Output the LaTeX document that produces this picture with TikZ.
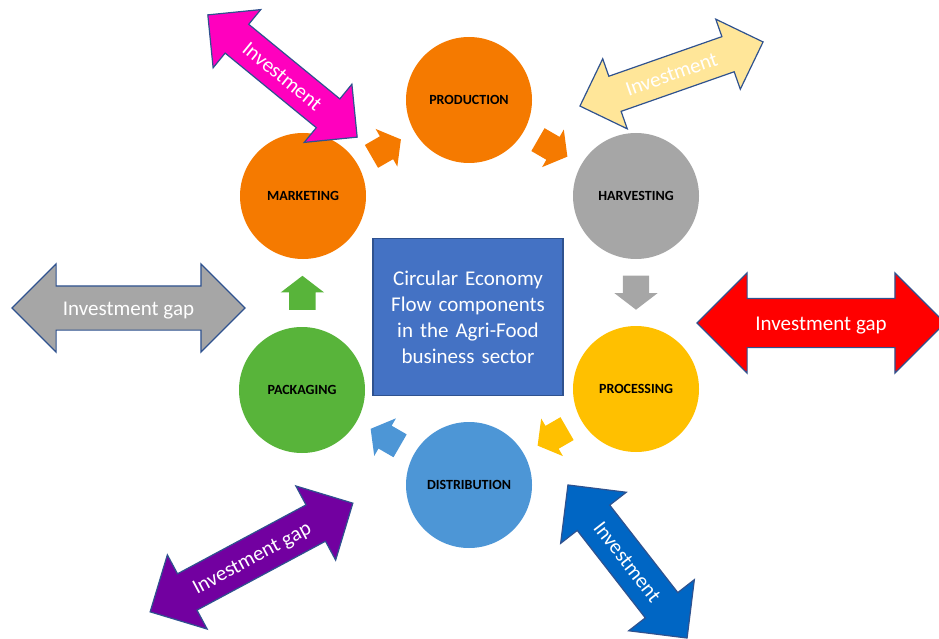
\documentclass[tikz,border=0pt]{standalone}
\usepackage{fontspec}
\setmainfont{Carlito}
\usepackage{tikz}
\usetikzlibrary{shapes.geometric, shapes.arrows, calc}
\definecolor{stageorange}{RGB}{245,122,0}
\definecolor{stagegray}{RGB}{166,166,166}
\definecolor{stageyellow}{RGB}{255,192,0}
\definecolor{stageblue}{RGB}{77,150,214}
\definecolor{stagegreen}{RGB}{88,180,58}
\definecolor{corefill}{RGB}{68,114,196}
\definecolor{edgeblue}{RGB}{47,82,143}
\definecolor{invpink}{RGB}{255,0,190}
\definecolor{invyellow}{RGB}{255,230,153}
\definecolor{gappurple}{RGB}{114,0,160}
\definecolor{invblue}{RGB}{0,102,196}
\tikzstyle{stage} = [circle, minimum size=126pt, inner sep=0pt, text centered, font=\bfseries\fontsize{14}{16}\selectfont]
\tikzstyle{centrebox} = [rectangle, minimum width=190pt, minimum height=157pt, text width=180pt, align=center, draw=edgeblue, line width=1.5pt, fill=corefill, text=white, font=\fontsize{21}{26}\selectfont]
\tikzstyle{flow} = [single arrow, anchor=tail, minimum height=34pt, inner xsep=0pt, inner ysep=13pt, single arrow head extend=8.5pt, single arrow tip angle=105]
\tikzstyle{bigarrow} = [double arrow, inner ysep=0pt, inner xsep=2pt, draw=edgeblue, line width=1.2pt, text=white, font=\fontsize{21}{26}\selectfont]

\begin{document}
\begin{tikzpicture}[x=1pt, y=-1pt]
  \useasboundingbox (0,0) rectangle (939,639);
  \node (core) [centrebox] at (468,317) {Circular Economy\\Flow components\\in the Agri-Food\\business sector};
  \node (production) [stage, fill=stageorange] at (469,100) {PRODUCTION};
  \node (harvesting) [stage, fill=stagegray] at (636,196) {HARVESTING};
  \node (processing) [stage, fill=stageyellow] at (636,389) {PROCESSING};
  \node (distribution) [stage, fill=stageblue] at (469,485) {DISTRIBUTION};
  \node (packaging) [stage, fill=stagegreen] at (302,390) {PACKAGING};
  \node (marketing) [stage, fill=stageorange] at (303,196) {MARKETING};

  \node (mark2prod) [flow, fill=stageorange, rotate=30] at ($(marketing)!0.5!(production)!17pt!(marketing)$) {};
  \node (prod2harv) [flow, fill=stageorange, rotate=-30] at ($(production)!0.5!(harvesting)!17pt!(production)$) {};
  \node (harv2proc) [flow, fill=stagegray, rotate=-90] at ($(harvesting)!0.5!(processing)!17pt!(harvesting)$) {};
  \node (proc2dist) [flow, fill=stageyellow, rotate=210] at ($(processing)!0.5!(distribution)!17pt!(processing)$) {};
  \node (dist2pack) [flow, fill=stageblue, rotate=150] at ($(distribution)!0.5!(packaging)!17pt!(distribution)$) {};
  \node (pack2mark) [flow, fill=stagegreen, rotate=90] at ($(packaging)!0.5!(marketing)!17pt!(packaging)$) {};

  \node (invtl) [bigarrow, fill=invpink, rotate=-39.3, minimum height=193pt, double arrow head extend=19pt, text height=25pt, text depth=11pt] at (282.5,76) {Investment};
  \node (invtr) [bigarrow, fill=invyellow, rotate=19.3, minimum height=194pt, double arrow head extend=18.5pt, text height=25pt, text depth=11pt] at (671.5,74) {Investment};
  \node (gapl) [bigarrow, fill=stagegray, minimum height=233pt, double arrow head extend=22pt, text height=28.5pt, text depth=14.5pt] at (128.5,308) {Investment gap};
  \node (gapr) [bigarrow, fill=red, minimum height=248pt, double arrow head extend=25.5pt, text height=31pt, text depth=17pt] at (821,323) {Investment gap};
  \node (gapbl) [bigarrow, fill=gappurple, rotate=28.2, minimum height=230pt, double arrow head extend=21.5pt, text height=27pt, text depth=13pt] at (251.5,557.5) {Investment gap};
  \node (invbr) [bigarrow, fill=invblue, rotate=-52.1, minimum height=194pt, double arrow head extend=21pt, text height=27pt, text depth=13pt] at (627.5,561.5) {Investment};
\end{tikzpicture}
\end{document}
